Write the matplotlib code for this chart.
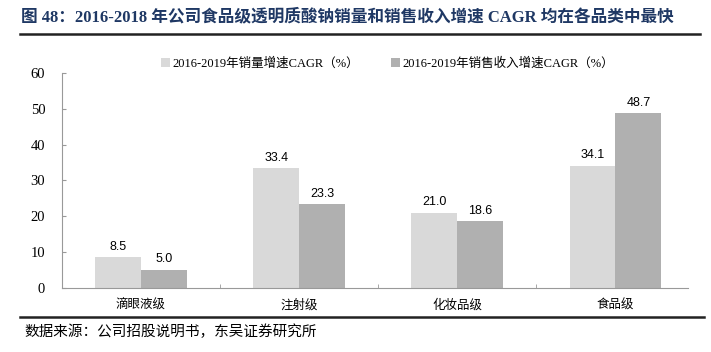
import matplotlib.pyplot as plt
import numpy as np
from matplotlib.lines import Line2D

plt.rcParams['font.family'] = ['Noto Sans CJK SC', 'DejaVu Sans']

categories = ['滴眼液级', '注射级', '化妆品级', '食品级']
volume_cagr = [8.5, 33.4, 21.0, 34.1]
revenue_cagr = [5.0, 23.3, 18.6, 48.7]
series_names = ['2016-2019年销量增速CAGR（%）', '2016-2019年销售收入增速CAGR（%）']
yticks = [0, 10, 20, 30, 40, 50, 60]

colors = ['#d9d9d9', '#b0b0b0']
serif_cjk = ['Liberation Serif', 'Noto Sans CJK SC']

fig = plt.figure(figsize=(7.11, 3.52), dpi=100)
ax = fig.add_axes([0.087, 0.182, 0.881, 0.611])

x = np.arange(len(categories))
w = 0.29
b1 = ax.bar(x - w / 2, volume_cagr, w, color=colors[0], label=series_names[0])
b2 = ax.bar(x + w / 2, revenue_cagr, w, color=colors[1], label=series_names[1])

for bars, vals in [(b1, volume_cagr), (b2, revenue_cagr)]:
    for rect, v in zip(bars, vals):
        ax.text(rect.get_x() + rect.get_width() / 2, v + 1.3, f'{v:.1f}',
                ha='center', va='bottom', fontsize=9, family='Liberation Sans')

ax.set_xlim(-0.5, 3.46)
ax.set_ylim(0, 60)
ax.set_yticks(yticks)
ax.set_yticklabels([str(t) for t in yticks], family='Liberation Serif', fontsize=10.5)
ax.set_xticks(x)
ax.set_xticklabels(categories, fontsize=9)
ax.set_xticks(x[:-1] + 0.5, minor=True)
ax.tick_params(axis='x', which='major', length=0, pad=8)
ax.tick_params(axis='x', which='minor', length=3, direction='in', color='#999999')
ax.tick_params(axis='y', length=3, direction='in', color='#999999', pad=12)

for s in ['top', 'right']:
    ax.spines[s].set_visible(False)
for s in ['left', 'bottom']:
    ax.spines[s].set_color('#999999')

leg = ax.legend(loc='upper center', bbox_to_anchor=(0.52, 1.125), ncol=2, frameon=False,
                handlelength=0.7, handleheight=0.7, handletextpad=0.2, columnspacing=2.6,
                prop={'family': serif_cjk, 'size': 9})

fig.text(0.03, 0.951, '图 48：2016-2018 年公司食品级透明质酸钠销量和销售收入增速 CAGR 均在各品类中最快',
         fontsize=12, fontweight='bold', color='#1f3864', va='center', family=serif_cjk)
fig.add_artist(Line2D([0.028, 0.985], [0.903, 0.903], color='#222222', lw=1.8))
fig.add_artist(Line2D([0.028, 0.99], [0.099, 0.099], color='#222222', lw=1.8))
fig.text(0.035, 0.058, '数据来源：公司招股说明书，东吴证券研究所', fontsize=10.5, va='center')

fig.savefig('out.png', dpi=100)
